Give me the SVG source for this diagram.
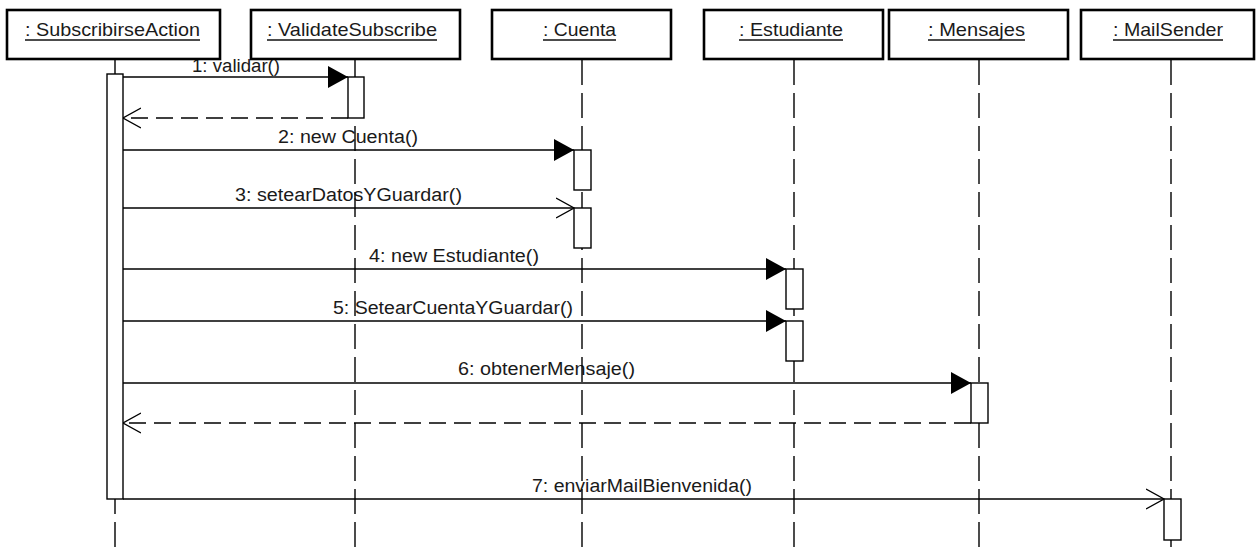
<svg xmlns="http://www.w3.org/2000/svg" width="1257" height="549" viewBox="0 0 1257 549">
  <style>
    text { font-family: "Liberation Sans", Arial, sans-serif; fill: #1a1a1a; }
    .hdr { font-size: 19px; text-anchor: middle; }
    .lbl { font-size: 18px; text-anchor: middle; }
    .box { fill: #fff; stroke: #000; stroke-width: 2.6; }
    .uline { stroke: #111; stroke-width: 1.3; }
    .life { stroke: #000; stroke-width: 1.4; stroke-dasharray: 25 8; fill: none; }
    .act { fill: #fff; stroke: #000; stroke-width: 1.4; }
    .msg { stroke: #000; stroke-width: 1.4; fill: none; }
    .call { marker-end: url(#filled); }
    .send { marker-end: url(#open); }
    .ret { stroke-dasharray: 17 8; marker-end: url(#open); }
  </style>
  <defs>
    <marker id="filled" markerUnits="userSpaceOnUse" markerWidth="22" markerHeight="24" refX="20" refY="11" orient="auto">
      <path d="M0,0 L20,11 L0,22 z" fill="#000"/>
    </marker>
    <marker id="open" markerUnits="userSpaceOnUse" markerWidth="22" markerHeight="24" refX="18" refY="11" orient="auto">
      <path d="M0,1 L18,11 L0,21" fill="none" stroke="#000" stroke-width="1.4"/>
    </marker>
  </defs>
  <rect width="1257" height="549" fill="#fff"/>

  <!-- message labels (drawn first: lifelines and header boxes sit on top) -->
  <g id="labels">
    <text class="lbl" x="236" y="72" textLength="88" lengthAdjust="spacingAndGlyphs">1: validar()</text>
    <text class="lbl" x="348" y="143" textLength="140" lengthAdjust="spacingAndGlyphs">2: new Cuenta()</text>
    <text class="lbl" x="348.5" y="201" textLength="227" lengthAdjust="spacingAndGlyphs">3: setearDatosYGuardar()</text>
    <text class="lbl" x="454" y="262" textLength="170" lengthAdjust="spacingAndGlyphs">4: new Estudiante()</text>
    <text class="lbl" x="453" y="314" textLength="240" lengthAdjust="spacingAndGlyphs">5: SetearCuentaYGuardar()</text>
    <text class="lbl" x="546.5" y="375" textLength="177" lengthAdjust="spacingAndGlyphs">6: obtenerMensaje()</text>
    <text class="lbl" x="642" y="492" textLength="220" lengthAdjust="spacingAndGlyphs">7: enviarMailBienvenida()</text>
  </g>

  <!-- lifelines -->
  <g id="lifelines">
    <line class="life" x1="115" y1="60" x2="115" y2="549"/>
    <line class="life" x1="355" y1="60" x2="355" y2="549"/>
    <line class="life" x1="582" y1="60" x2="582" y2="549"/>
    <line class="life" x1="794" y1="60" x2="794" y2="549"/>
    <line class="life" x1="979" y1="60" x2="979" y2="549"/>
    <line class="life" x1="1171" y1="60" x2="1171" y2="549"/>
  </g>

  <!-- connectors -->
  <g id="connectors">
    <line class="msg call" x1="123" y1="77" x2="348" y2="77"/>
    <line class="msg ret" x1="348" y1="118" x2="123" y2="118"/>
    <line class="msg call" x1="123" y1="150" x2="574" y2="150"/>
    <line class="msg send" x1="123" y1="208" x2="574" y2="208"/>
    <line class="msg call" x1="123" y1="269" x2="786" y2="269"/>
    <line class="msg call" x1="123" y1="321" x2="786" y2="321"/>
    <line class="msg call" x1="123" y1="383" x2="971" y2="383"/>
    <line class="msg ret" x1="971" y1="423" x2="123" y2="423"/>
    <line class="msg send" x1="123" y1="499" x2="1164" y2="499"/>
  </g>

  <!-- activation bars -->
  <g id="activations">
    <rect class="act" x="107" y="74" width="16" height="425"/>
    <rect class="act" x="348" y="77" width="16" height="41"/>
    <rect class="act" x="574" y="150" width="17" height="40"/>
    <rect class="act" x="574" y="208" width="17" height="40"/>
    <rect class="act" x="786" y="269" width="17" height="40"/>
    <rect class="act" x="786" y="321" width="17" height="40"/>
    <rect class="act" x="971" y="383" width="17" height="40"/>
    <rect class="act" x="1164" y="499" width="17" height="41"/>
  </g>

  <!-- object headers -->
  <g id="subscribirseAction">
    <rect class="box" x="7" y="10" width="213" height="49"/>
    <text class="hdr" x="112.5" y="36" textLength="175" lengthAdjust="spacingAndGlyphs">: SubscribirseAction</text>
    <line class="uline" x1="25" y1="40" x2="200" y2="40"/>
  </g>
  <g id="validateSubscribe">
    <rect class="box" x="251" y="10" width="209" height="49"/>
    <text class="hdr" x="352" y="36" textLength="170" lengthAdjust="spacingAndGlyphs">: ValidateSubscribe</text>
    <line class="uline" x1="267" y1="40" x2="437" y2="40"/>
  </g>
  <g id="cuenta">
    <rect class="box" x="492" y="10" width="179" height="49"/>
    <text class="hdr" x="579.5" y="36" textLength="73" lengthAdjust="spacingAndGlyphs">: Cuenta</text>
    <line class="uline" x1="543" y1="40" x2="616" y2="40"/>
  </g>
  <g id="estudiante">
    <rect class="box" x="704" y="10" width="179" height="49"/>
    <text class="hdr" x="791" y="36" textLength="104" lengthAdjust="spacingAndGlyphs">: Estudiante</text>
    <line class="uline" x1="739" y1="40" x2="843" y2="40"/>
  </g>
  <g id="mensajes">
    <rect class="box" x="889" y="10" width="179" height="49"/>
    <text class="hdr" x="976.5" y="36" textLength="97" lengthAdjust="spacingAndGlyphs">: Mensajes</text>
    <line class="uline" x1="928" y1="40" x2="1025" y2="40"/>
  </g>
  <g id="mailSender">
    <rect class="box" x="1081" y="10" width="173" height="49"/>
    <text class="hdr" x="1168" y="36" textLength="110" lengthAdjust="spacingAndGlyphs">: MailSender</text>
    <line class="uline" x1="1113" y1="40" x2="1223" y2="40"/>
  </g>
</svg>
